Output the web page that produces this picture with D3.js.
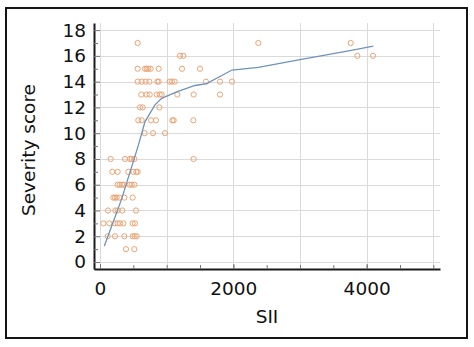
<!DOCTYPE html>
<html><head><meta charset="utf-8">
<script src="https://cdn.jsdelivr.net/npm/d3@7"></script>
<style>html,body{margin:0;padding:0;background:#fff;}svg{display:block;}</style>
</head><body>
<svg id="chart" width="474" height="347"></svg>
<script>
// Severity score levels and SII values observed at each level
const severityLevels = [17, 16, 15, 14, 13, 12, 11, 10, 8, 7, 6, 5, 4, 3, 2, 1];
const siiByLevel = [
  [565, 2375, 3760],
  [1200, 1250, 3860, 4095],
  [565, 675, 700, 725, 760, 880, 1230, 1500],
  [565, 625, 685, 740, 860, 880, 1045, 1080, 1120, 1590, 1800, 1980],
  [620, 700, 745, 850, 895, 925, 1160, 1405, 1800],
  [600, 640, 890],
  [575, 625, 765, 840, 1085, 1105, 1400],
  [670, 795, 975],
  [160, 375, 450, 475, 515, 1405],
  [185, 265, 425, 500, 545, 565],
  [265, 295, 330, 360, 445, 475, 515],
  [200, 225, 250, 290, 365, 490],
  [120, 230, 265, 335, 540],
  [50, 140, 225, 265, 300, 350, 490, 525],
  [115, 225, 365, 490, 520, 550],
  [390, 515]
];
// Smoothed fit line
const fitSII = [65, 325, 575, 675, 825, 925, 1150, 1425, 1600, 1980, 2375, 3000, 3750, 4100];
const fitScore = [1.25, 4.9, 9.05, 10.9, 12.2, 12.7, 13.2, 13.7, 13.85, 14.9, 15.1, 15.7, 16.4, 16.75];

const xMajorTicks = [0, 2000, 4000];
const xMinorTicks = [0, 500, 1000, 1500, 2000, 2500, 3000, 3500, 4000, 4500, 5000];
const xGridTicks = [0, 1000, 2000, 3000, 4000, 5000];
const yMajorTicks = [0, 2, 4, 6, 8, 10, 12, 14, 16, 18];
const yMinorTicks = [1, 3, 5, 7, 9, 11, 13, 15, 17];

const points = [];
severityLevels.forEach((lv, i) => siiByLevel[i].forEach(s => points.push({sii: s, score: lv})));
const fit = fitSII.map((s, i) => ({sii: s, score: fitScore[i]}));

const svg = d3.select("#chart");
const FONT = "'DejaVu Sans', sans-serif";

svg.append("rect").attr("x", 6).attr("y", 8).attr("width", 461).attr("height", 330)
  .attr("fill", "#fff").attr("stroke", "#151515").attr("stroke-width", 2);

const x = d3.scaleLinear().domain([-90, 5100]).range([94, 440]);
const y = d3.scaleLinear().domain([-0.54, 18.55]).range([269, 23]);

// grid
const grid = svg.append("g").attr("stroke", "#dadada").attr("stroke-width", 1);
grid.selectAll(".gv").data(xGridTicks).join("line")
  .attr("x1", d => Math.round(x(d)) + 0.5).attr("x2", d => Math.round(x(d)) + 0.5)
  .attr("y1", y.range()[1]).attr("y2", y.range()[0]);
grid.selectAll(".gh").data(yMajorTicks).join("line")
  .attr("y1", d => Math.round(y(d)) + 0.5).attr("y2", d => Math.round(y(d)) + 0.5)
  .attr("x1", x.range()[0]).attr("x2", x.range()[1]);

// axes
const yAxisMajor = svg.append("g").attr("transform", "translate(94,0)")
  .call(d3.axisLeft(y).tickValues(yMajorTicks).tickSizeInner(-6).tickSizeOuter(0).tickPadding(8).tickFormat(d3.format("d")));
const yAxisMinor = svg.append("g").attr("transform", "translate(94,0)")
  .call(d3.axisLeft(y).tickValues(yMinorTicks).tickSizeInner(-4).tickSizeOuter(0).tickFormat(""));
yAxisMinor.select(".domain").remove();
const xAxisMajor = svg.append("g").attr("transform", "translate(0,269)")
  .call(d3.axisBottom(x).tickValues(xMajorTicks).tickSizeInner(-5).tickSizeOuter(0).tickPadding(13).tickFormat(d3.format("d")));
const xAxisMinor = svg.append("g").attr("transform", "translate(0,269)")
  .call(d3.axisBottom(x).tickValues(xMinorTicks).tickSizeInner(-4).tickSizeOuter(0).tickFormat(""));
xAxisMinor.select(".domain").remove();

[yAxisMajor, xAxisMajor].forEach(g => {
  g.select(".domain").attr("stroke", "#1a1a1a").attr("stroke-width", 2);
  g.selectAll("text").attr("font-family", FONT).attr("font-size", "18.5px").attr("fill", "#111");
});
[yAxisMajor, yAxisMinor, xAxisMajor, xAxisMinor].forEach(g =>
  g.selectAll(".tick line").attr("stroke", "#777").attr("stroke-width", 1));

// points
svg.append("g").selectAll("circle").data(points).join("circle")
  .attr("cx", d => x(d.sii)).attr("cy", d => y(d.score)).attr("r", 2.6)
  .attr("fill", "none").attr("stroke", "#eda472").attr("stroke-width", 1);

// fit line
svg.append("path").datum(fit)
  .attr("d", d3.line().x(d => x(d.sii)).y(d => y(d.score)))
  .attr("fill", "none").attr("stroke", "#6e93bb").attr("stroke-width", 1.3);

// labels
svg.append("text").attr("transform", "translate(35,150) rotate(-90)")
  .attr("text-anchor", "middle").attr("font-family", FONT).attr("font-size", "18.5px")
  .attr("fill", "#111").text("Severity score");
svg.append("text").attr("x", 267).attr("y", 322.5)
  .attr("text-anchor", "middle").attr("font-family", FONT).attr("font-size", "18.5px")
  .attr("fill", "#111").text("SII");
</script>
</body></html>
